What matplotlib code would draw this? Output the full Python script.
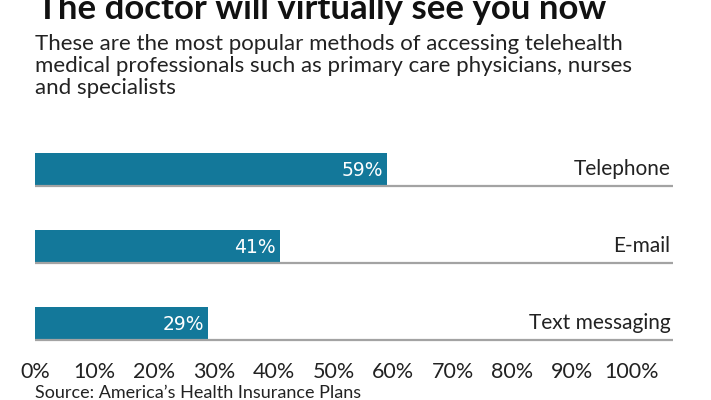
import matplotlib
matplotlib.use('Agg')
import matplotlib.pyplot as plt

methods = ['Telephone', 'E-mail', 'Text messaging']
shares = [59, 41, 29]
tick_values = [0, 10, 20, 30, 40, 50, 60, 70, 80, 90, 100]
tick_labels = ['%d%%' % v for v in tick_values]

title = 'The doctor will virtually see you now'
subtitle_lines = ['These are the most popular methods of accessing telehealth',
                  'medical professionals such as primary care physicians, nurses',
                  'and specialists']
source = 'Source: America\u2019s Health Insurance Plans'

bar_color = '#13789a'
line_color = '#a3a3a3'
text_color = '#222222'
font = 'Lato'

fig = plt.figure(figsize=(7.11, 4.0), dpi=100)
W, H = 711, 400

# axes placed in pixel terms: x from 35 to 673, y from 130 to 345
ax = fig.add_axes([35 / W, 1 - 345 / H, 638 / W, 215 / H])
ax.set_xlim(0, 106.9)
ax.set_ylim(2.286, -0.506)

ypos = list(range(len(methods)))
bar_h = 0.42
ax.barh(ypos, shares, height=bar_h, color=bar_color, align='center')

for y, v, name in zip(ypos, shares, methods):
    ax.axhline(y + bar_h / 2 + 0.01, color=line_color, lw=1.6, zorder=3)
    ax.text(v - 0.7, y + 0.02, '%d%%' % v, color='white', ha='right', va='center',
            fontsize=13.5, family='DejaVu Sans')
    ax.text(106.5, y, name, ha='right', va='center', fontsize=15, family=font,
            color=text_color)

for s in ax.spines.values():
    s.set_visible(False)
ax.set_yticks([])
ax.set_xticks(tick_values)
ax.set_xticklabels(tick_labels, fontsize=15.5, family=font, color=text_color)
ax.tick_params(axis='x', length=0, pad=12)

fig.text(37 / W, 1 - 19 / H, title, fontsize=25, fontweight='bold', family=font,
         ha='left', va='baseline', color='#111111')
for i, line in enumerate(subtitle_lines):
    fig.text(35 / W, 1 - (50 + 22 * i) / H, line, fontsize=16, family=font,
             ha='left', va='baseline', color=text_color)
fig.text(35 / W, 1 - 398 / H, source, fontsize=13, family=font, ha='left',
         va='baseline', color=text_color)

fig.savefig('out.png', dpi=100)
